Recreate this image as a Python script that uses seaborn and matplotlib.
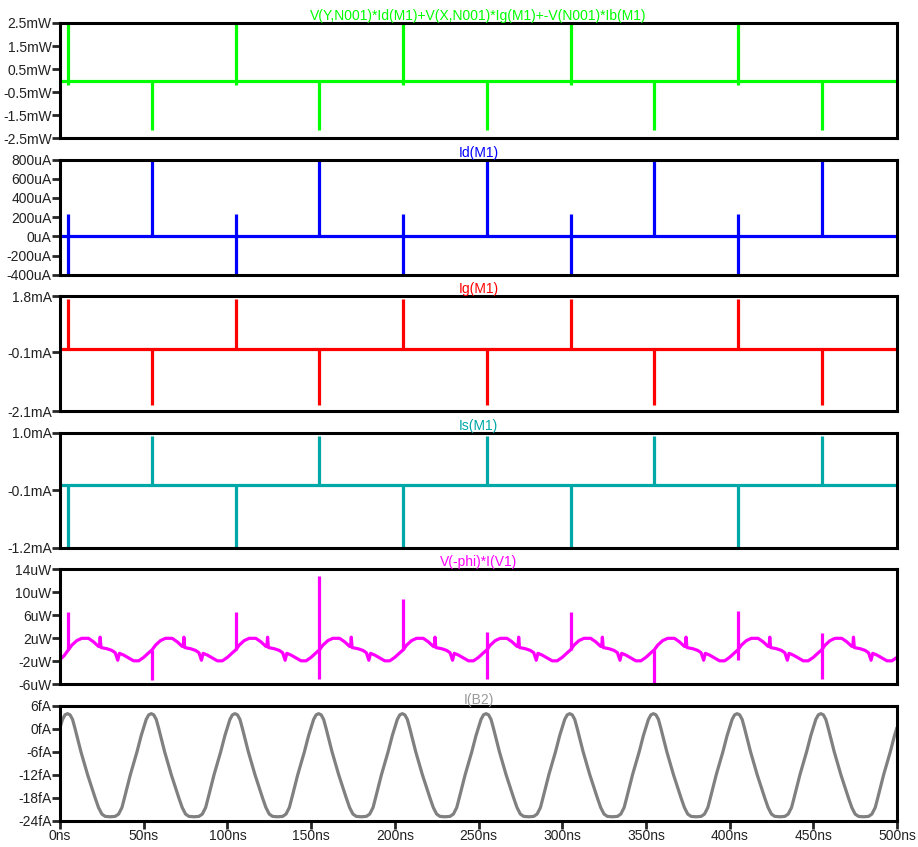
import numpy as np
import matplotlib
matplotlib.use("Agg")
import matplotlib.pyplot as plt
import seaborn as sns

sns.set_style("white")
plt.rcParams["font.family"] = ["Liberation Sans", "DejaVu Sans"]

# time axis (ns)
t_span = [0, 500]
flat = [0, 0]
spike_a = [5, 105, 205, 305, 405]      # switching edges A
spike_b = [55, 155, 255, 355, 455]     # switching edges B

# panel 1: power (mW)
pw_a_lo = [-0.2, -0.2, -0.2, -0.2, -0.2]
pw_a_hi = [2.5, 2.5, 2.5, 2.5, 2.5]
pw_b_lo = [-2.15, -2.15, -2.15, -2.15, -2.15]
pw_b_hi = [0, 0, 0, 0, 0]

# panel 2: Id (uA)
id_a_lo = [-400, -400, -400, -400, -400]
id_a_hi = [230, 230, 230, 230, 230]
id_b_lo = [0, 0, 0, 0, 0]
id_b_hi = [790, 790, 790, 790, 790]

# panel 3: Ig (mA)
ig_a_lo = [0, 0, 0, 0, 0]
ig_a_hi = [1.7, 1.7, 1.7, 1.7, 1.7]
ig_b_lo = [-1.87, -1.87, -1.87, -1.87, -1.87]
ig_b_hi = [0, 0, 0, 0, 0]

# panel 4: Is (mA)
is_a_lo = [-1.2, -1.2, -1.2, -1.2, -1.2]
is_a_hi = [0, 0, 0, 0, 0]
is_b_lo = [0, 0, 0, 0, 0]
is_b_hi = [0.94, 0.94, 0.94, 0.94, 0.94]

# panel 5: V(-phi)*I(V1) (uW) - start, one repeating cycle (from t=5+50k), spikes
phi_head_t = [0, 0.3, 2.5]
phi_head_v = [0, -1.6, -1.0]
phi_cycle_t = [0, 2, 5, 8, 12, 15, 18, 18.6, 19, 19.5, 23, 26, 28, 29.5, 30.5,
               33, 36, 39, 42, 45, 48]
phi_cycle_v = [0, 0.8, 1.6, 2.0, 2.0, 1.4, 0.6, 0.6, 2.2, 0.4, 0.2, -0.1, -0.5,
               -1.8, -0.6, -0.9, -1.4, -1.9, -1.9, -1.3, -0.5]
phi_spike_t = [5, 55, 105, 155, 205, 255, 305, 355, 405, 455]
phi_spike_hi = [6.5, 0, 6.5, 12.8, 8.8, 3.1, 6.6, 0, 6.8, 3.0]
phi_spike_lo = [0, -5.2, 0, -5.1, 0, -5.1, 0, -5.8, -1.8, -5.1]

# panel 6: I(B2) (fA) - one repeating 50 ns cycle
b2_cycle_t = [0, 1.5, 3, 4.5, 6, 7.5, 9, 12.5, 16.5, 21, 23, 25, 27, 30, 33,
              35, 37, 38.5, 42, 46, 48.5]
b2_cycle_v = [0.3, 2.4, 3.6, 3.9, 3.6, 2.4, 0, -6, -12, -18, -20.5, -22.2, -22.8,
              -22.9, -22.8, -22.2, -20.5, -18, -12, -6, -1.8]
n_cycles = 10

titles = ["V(Y,N001)*Id(M1)+V(X,N001)*Ig(M1)+-V(N001)*Ib(M1)", "Id(M1)", "Ig(M1)",
          "Is(M1)", "V(-phi)*I(V1)", "I(B2)"]
colors = ["#00ff00", "#0000ff", "#ff0000", "#00a8a8", "#ff00ff", "#808080"]
title_colors = ["#00ff00", "#0000ff", "#ff0000", "#00a8a8", "#ff00ff", "#999999"]
ylims = [(-2.5, 2.5), (-400, 800), (-2.1, 1.8), (-1.2, 1.0), (-6, 14), (-24, 6)]
yticks = [[2.5, 1.5, 0.5, -0.5, -1.5, -2.5],
          [800, 600, 400, 200, 0, -200, -400],
          [1.8, -0.1, -2.1],
          [1.0, -0.1, -1.2],
          [14, 10, 6, 2, -2, -6],
          [6, 0, -6, -12, -18, -24]]
ylabels = [["2.5mW", "1.5mW", "0.5mW", "-0.5mW", "-1.5mW", "-2.5mW"],
           ["800uA", "600uA", "400uA", "200uA", "0uA", "-200uA", "-400uA"],
           ["1.8mA", "-0.1mA", "-2.1mA"],
           ["1.0mA", "-0.1mA", "-1.2mA"],
           ["14uW", "10uW", "6uW", "2uW", "-2uW", "-6uW"],
           ["6fA", "0fA", "-6fA", "-12fA", "-18fA", "-24fA"]]
xticks = [0, 50, 100, 150, 200, 250, 300, 350, 400, 450, 500]
xlabels = ["0ns", "50ns", "100ns", "150ns", "200ns", "250ns", "300ns", "350ns",
           "400ns", "450ns", "500ns"]

lw = 2.3
fig, axes = plt.subplots(6, 1, figsize=(9.18, 8.47), dpi=100, sharex=True)
fig.subplots_adjust(left=60 / 918, right=897 / 918, top=1 - 23 / 847,
                    bottom=1 - 821 / 847, hspace=0.183)

spike_sets = [(pw_a_lo, pw_a_hi, pw_b_lo, pw_b_hi),
              (id_a_lo, id_a_hi, id_b_lo, id_b_hi),
              (ig_a_lo, ig_a_hi, ig_b_lo, ig_b_hi),
              (is_a_lo, is_a_hi, is_b_lo, is_b_hi)]

for i, ax in enumerate(axes[:4]):
    c = colors[i]
    sns.lineplot(x=t_span, y=flat, ax=ax, color=c, linewidth=lw)
    a_lo, a_hi, b_lo, b_hi = spike_sets[i]
    ax.vlines(spike_a, a_lo, a_hi, color=c, linewidth=lw)
    ax.vlines(spike_b, b_lo, b_hi, color=c, linewidth=lw)

# panel 5
phi_t = list(phi_head_t)
phi_v = list(phi_head_v)
for k in range(n_cycles):
    phi_t += [5 + 50 * k + x for x in phi_cycle_t]
    phi_v += phi_cycle_v
sns.lineplot(x=phi_t, y=phi_v, ax=axes[4], color=colors[4], linewidth=lw,
             estimator=None, sort=False)
axes[4].vlines(phi_spike_t, phi_spike_lo, phi_spike_hi, color=colors[4], linewidth=lw)

# panel 6
b2_t, b2_v = [], []
for k in range(n_cycles):
    b2_t += [50 * k + x for x in b2_cycle_t]
    b2_v += b2_cycle_v
b2_t.append(500)
b2_v.append(b2_cycle_v[0])
sns.lineplot(x=b2_t, y=b2_v, ax=axes[5], color=colors[5], linewidth=lw,
             estimator=None, sort=False)

for i, ax in enumerate(axes):
    ax.set_xlim(0, 500)
    ax.set_ylim(*ylims[i])
    ax.set_yticks(yticks[i])
    ax.set_yticklabels(ylabels[i], fontsize=10)
    ax.set_title(titles[i], color=title_colors[i], fontsize=10, pad=1)
    ax.set_xlabel("")
    ax.set_ylabel("")
    for s in ax.spines.values():
        s.set_linewidth(2.2)
        s.set_color("black")
    ax.tick_params(axis="y", left=True, length=6, width=2, pad=0,
                   labelcolor="#222222")
    ax.tick_params(axis="x", bottom=False, length=0)

axes[5].set_xticks(xticks)
axes[5].set_xticklabels(xlabels, fontsize=10)
axes[5].tick_params(axis="x", bottom=True, length=6, width=2, pad=0,
                    labelbottom=True, labelcolor="#222222")

plt.savefig("out.png", dpi=100)
